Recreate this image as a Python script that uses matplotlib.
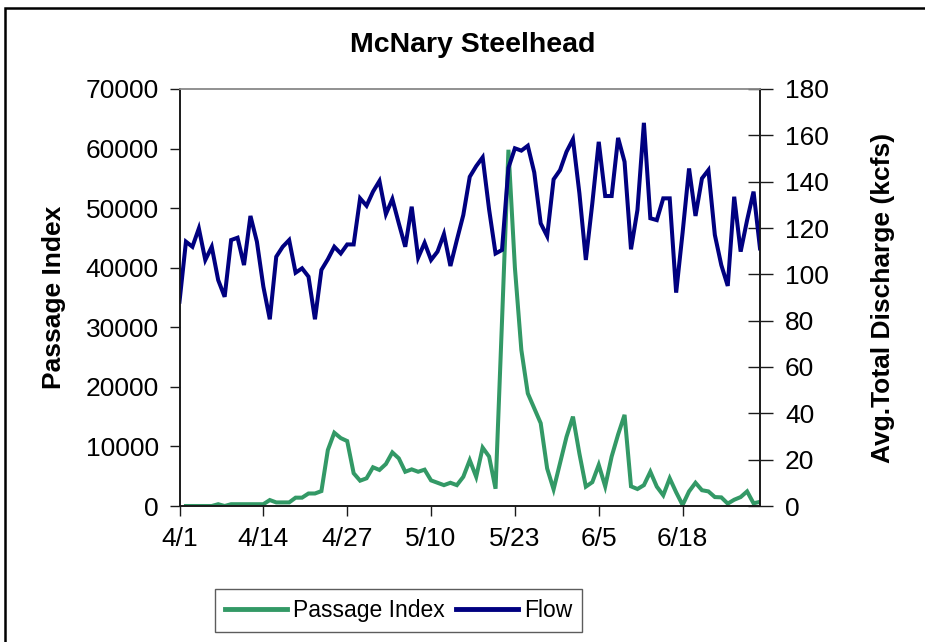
import numpy as np
import matplotlib.pyplot as plt
from matplotlib.patches import Rectangle

plt.rcParams['font.family'] = ['Liberation Sans', 'DejaVu Sans']

# day index from 4/1 (0) to 6/30 (90)
days = np.arange(91)

tick_days = [0, 13, 26, 39, 52, 65, 78]
tick_labels = ["4/1", "4/14", "4/27", "5/10", "5/23", "6/5", "6/18"]

# passage index (no value on 4/1)
passage = [np.nan, 0, 0, 0, 0, 0, 300, 0, 300, 300,
           300, 300, 300, 300, 1000, 600, 600, 600, 1400, 1400,
           2100, 2100, 2500, 9400, 12300, 11400, 10900, 5500, 4250, 4650,
           6500, 6050, 7050, 9000, 8000, 5750, 6150, 5750, 6100, 4300,
           3900, 3500, 3900, 3500, 4900, 7700, 4900, 9800, 8300, 2900,
           31000, 59800, 40000, 26200, 18900, 16400, 13900, 6300, 2800, 7200,
           11600, 15000, 8800, 3250, 4000, 6900, 3300, 8300, 12000, 15300,
           3300, 2850, 3500, 5750, 3250, 1800, 4650, 2300, 170, 2450,
           3900, 2650, 2450, 1500, 1450, 400, 1050, 1500, 2450, 450,
           700]

# avg total discharge, kcfs
flow = [88.2, 114.1, 111.9, 119.8, 106.2, 111.9, 97.5, 90.3, 114.8, 115.8,
        104.0, 125.2, 114.1, 94.7, 80.6, 107.6, 111.9, 114.8, 100.7, 102.6,
        99.0, 80.6, 101.9, 106.5, 111.9, 109.0, 112.9, 112.9, 132.8, 129.6,
        135.7, 140.3, 126.0, 132.5, 122.0, 111.9, 129.2, 107.2, 113.6, 106.2,
        109.8, 117.4, 103.6, 114.8, 125.6, 142.1, 146.7, 150.5, 128.0, 109.0,
        110.5, 146.0, 154.4, 153.4, 155.5, 144.0, 122.0, 116.5, 141.0, 145.0,
        152.9, 158.3, 135.0, 106.2, 130.6, 157.2, 133.8, 133.8, 158.9, 148.6,
        110.8, 127.8, 165.4, 124.2, 123.4, 132.8, 132.8, 92.1, 118.0, 145.7,
        125.2, 141.4, 145.0, 117.0, 104.0, 95.0, 133.5, 109.8, 123.4, 135.7,
        111.2]

W, H = 925, 642
fig = plt.figure(figsize=(W / 100, H / 100), dpi=100)
ax = fig.add_axes([179.5 / W, 1 - 506 / H, (760 - 179.5) / W, (506 - 89) / H])

green = '#339966'
navy = '#000080'

l1, = ax.plot(days, passage, color=green, lw=2.9, label='Passage Index',
              solid_joinstyle='miter')
ax.set_xlim(0, 90)
ax.set_ylim(0, 70000)
ax.set_yticks(range(0, 70001, 10000))
ax.set_xticks(tick_days)
ax.set_xticklabels(tick_labels)

ax2 = ax.twinx()
l2, = ax2.plot(days, flow, color=navy, lw=2.9, label='Flow',
               solid_joinstyle='miter')
ax2.set_ylim(0, 180)
ax2.set_yticks(range(0, 181, 20))

for a in (ax, ax2):
    for s in a.spines.values():
        s.set_color('#1a1a1a')
        s.set_linewidth(1.2)
    a.spines['top'].set_color('#909090')

ax.tick_params(axis='both', labelsize=19, length=7, width=1, color='#1a1a1a')
ax.tick_params(axis='y', pad=8)
ax.tick_params(axis='x', pad=8)
ax2.tick_params(axis='y', labelsize=19, direction='inout', length=18,
                width=1, color='#1a1a1a', pad=9)

ax.set_ylabel('Passage Index', fontsize=19, fontweight='bold', labelpad=14)
ax2.set_ylabel('Avg.Total Discharge (kcfs)', fontsize=19, fontweight='bold',
               labelpad=30)

fig.text(472.5 / W, 1 - 45 / H, 'McNary Steelhead', ha='center', va='center',
         fontsize=20.5, fontweight='bold')

leg = fig.legend(handles=[l1, l2], loc='center', ncol=2,
                 bbox_to_anchor=(398.8 / W, 1 - 610.5 / H), fontsize=16.5,
                 frameon=True, fancybox=False, handlelength=2.7,
                 handletextpad=0.25, columnspacing=0.5, borderpad=0.45)
leg.get_frame().set_edgecolor('#333333')
leg.get_frame().set_linewidth(1.0)
for h in leg.get_lines():
    h.set_linewidth(3.5)

# outer chart border
fig.patches.append(Rectangle((5 / W, -0.1), 1.2, (H - 8) / H + 0.1,
                             fill=False, lw=1.8, ec='black',
                             transform=fig.transFigure))

fig.savefig('out.png', dpi=100)
